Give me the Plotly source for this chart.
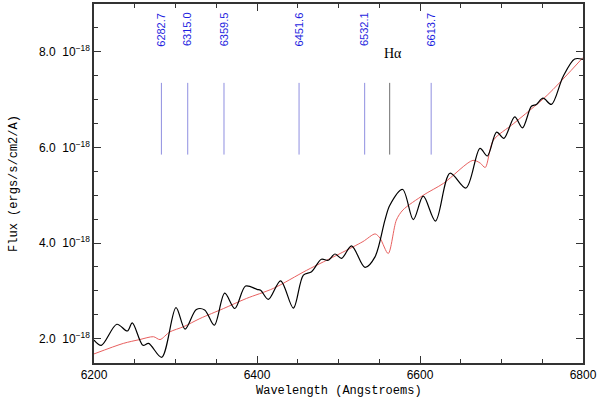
import plotly.graph_objects as go

# observed spectrum (flux in units of 1e-18 ergs/s/cm2/A)
obs_wave = [6200, 6209, 6228, 6241, 6247, 6260, 6267, 6283, 6300.6, 6311.7,
            6325.6, 6335.8, 6347.6, 6360.4, 6372.8, 6386, 6400, 6404.5, 6413.9,
            6429, 6444.6, 6456.9, 6467, 6479, 6487.5, 6495.6, 6503.8, 6516,
            6532.5, 6544.8, 6557, 6563, 6578.7, 6591.8, 6604, 6619, 6636.8,
            6656.4, 6673.6, 6682.6, 6694, 6703, 6716.2, 6725.7, 6736.7, 6742.8,
            6751, 6761.2, 6775.5, 6789.8, 6800]
obs_flux = [1.97, 1.86, 2.30, 2.16, 2.33, 1.86, 1.90, 1.61, 2.65, 2.20,
            2.61, 2.60, 2.28, 2.95, 2.63, 3.10, 3.03, 3.01, 2.82,
            3.21, 2.64, 3.33, 3.40, 3.66, 3.64, 3.77, 3.68, 3.94,
            3.49, 3.71, 4.48, 4.79, 5.12, 4.49, 4.98, 4.46, 5.46,
            5.15, 5.98, 5.82, 6.32, 6.19, 6.64, 6.41, 6.86, 6.90,
            7.03, 6.90, 7.48, 7.85, 7.84]

# model spectrum
mod_wave = [6200, 6236, 6256, 6273, 6281, 6293, 6310, 6330, 6359, 6387, 6420,
            6461, 6502, 6530, 6545, 6551, 6561, 6571, 6579, 6604, 6629, 6665,
            6674, 6680, 6690, 6715, 6756, 6800]
mod_flux = [1.68, 1.90, 1.98, 2.04, 1.98, 2.14, 2.25, 2.42, 2.63, 2.84, 3.05,
            3.43, 3.78, 4.03, 4.19, 4.10, 3.78, 4.48, 4.69, 5.00, 5.25, 5.73,
            5.67, 5.58, 6.15, 6.50, 7.09, 7.88]

# marked lines
line_waves = [6282.7, 6315.0, 6359.5, 6451.6, 6532.1, 6613.7]
line_labels = ['6282.7', '6315.0', '6359.5', '6451.6', '6532.1', '6613.7']
halpha_wave = 6562.8

y_ticks = [2.0, 4.0, 6.0, 8.0]
y_ticktext = [f'{v:.1f}  10<sup>\u221218</sup>' for v in y_ticks]
x_ticks = [6200, 6400, 6600, 6800]

fig = go.Figure()

# vertical marker lines
vx, vy = [], []
for w in line_waves:
    vx += [w, w, None]
    vy += [5.85, 7.35, None]
fig.add_trace(go.Scatter(x=vx, y=vy, mode='lines',
                         line=dict(color='#8f8fe0', width=1),
                         hoverinfo='skip', showlegend=False))
fig.add_trace(go.Scatter(x=[halpha_wave, halpha_wave], y=[5.85, 7.35],
                         mode='lines', line=dict(color='#707070', width=1),
                         hoverinfo='skip', showlegend=False))

fig.add_trace(go.Scatter(x=mod_wave, y=mod_flux, mode='lines',
                         line=dict(color='#e8605f', width=1, shape='spline',
                                   smoothing=0.8),
                         showlegend=False))
fig.add_trace(go.Scatter(x=obs_wave, y=obs_flux, mode='lines',
                         line=dict(color='black', width=1.2, shape='spline',
                                   smoothing=0.9),
                         showlegend=False))

for w, lab in zip(line_waves, line_labels):
    fig.add_annotation(x=w, y=8.47, text=lab, textangle=-90, showarrow=False,
                       font=dict(family='Liberation Sans, Arial', size=11,
                                 color='#1f1fe0'))
fig.add_annotation(x=6567, y=7.97, text='H\u03b1', showarrow=False,
                   font=dict(family='Liberation Serif', size=14, color='black'))

# x title as annotation so it can sit below the margin limit
fig.add_annotation(x=0.5, y=0, xref='paper', yref='paper', yanchor='middle',
                   yshift=-28, text='Wavelength (Angstroems)', showarrow=False,
                   font=dict(family='Liberation Mono', size=12, color='black'))

axis_common = dict(showline=True, linecolor='#333333', linewidth=1.5,
                   mirror='ticks', ticks='inside', ticklen=7,
                   tickcolor='#333333', tickwidth=1.2, showgrid=False,
                   zeroline=False, automargin=False,
                   tickfont=dict(family='Liberation Sans, Arial', size=12,
                                 color='black'))

fig.update_xaxes(range=[6200, 6800], tickvals=x_ticks,
                 minor=dict(dtick=50, ticks='inside', ticklen=4,
                            tickcolor='#333333', tickwidth=1.2),
                 **axis_common)
fig.update_yaxes(range=[1.49, 9.0], tickvals=y_ticks, ticktext=y_ticktext,
                 minor=dict(dtick=0.5, tick0=0, ticks='inside', ticklen=4,
                            tickcolor='#333333', tickwidth=1.2),
                 title=dict(text='Flux (ergs/s/cm2/A)', standoff=19,
                            font=dict(family='Liberation Mono', size=12,
                                      color='black')),
                 **axis_common)

fig.update_layout(width=600, height=398,
                  margin=dict(l=94, r=17, t=4, b=35),
                  plot_bgcolor='white', paper_bgcolor='white')

# page body margin would shift the figure inside the 600x398 window
fig.write_html("out.html", config={'displayModeBar': False},
               post_script="document.body.style.margin='0';")
